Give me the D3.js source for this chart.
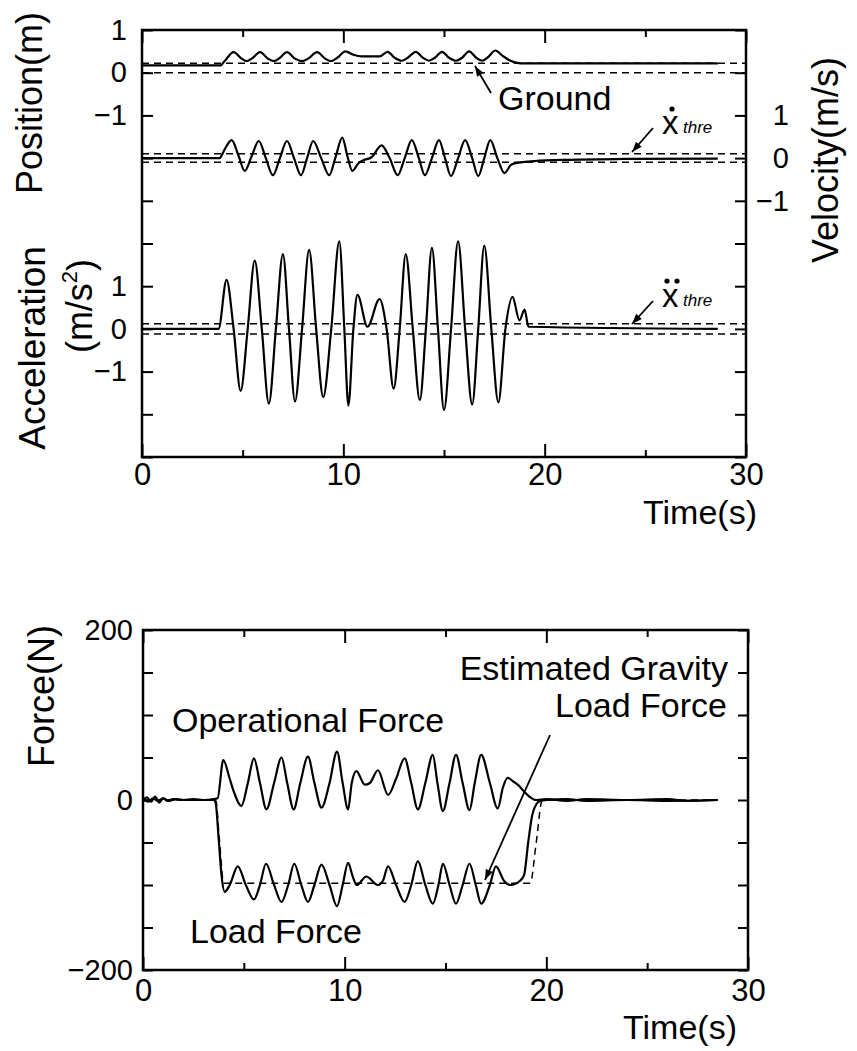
<!DOCTYPE html>
<html lang="en">
<head>
<meta charset="UTF-8" />
<title>Position / Velocity / Acceleration and Force</title>
<script src="https://cdn.jsdelivr.net/npm/d3@7"></script>
<style>
  body { margin: 0; background: #fff; }
  svg text { font-family: "Liberation Sans", Arial, Helvetica, sans-serif; fill: #000; }
  .domain { display: none; }
  .tick line { stroke: #000; stroke-width: 2; }
</style>
</head>
<body>
<svg id="chart" width="857" height="1051"></svg>
<script>
// ---- data: [time (s), value] ----
const position = [[0,0.17],[3.9,0.17],[4.15,0.3],[4.55,0.48],[4.95,0.33],[5.2,0.27],[5.45,0.33],[5.87,0.48],[6.25,0.33],[6.55,0.27],[6.8,0.33],[7.2,0.48],[7.6,0.33],[7.95,0.27],[8.25,0.33],[8.7,0.48],[9.1,0.33],[9.4,0.27],[9.7,0.35],[10.1,0.5],[10.5,0.42],[10.9,0.38],[11.8,0.38],[12.2,0.49],[12.55,0.35],[12.9,0.28],[13.2,0.35],[13.6,0.49],[13.95,0.35],[14.25,0.28],[14.55,0.35],[14.9,0.49],[15.25,0.35],[15.6,0.28],[15.9,0.35],[16.25,0.5],[16.6,0.35],[16.9,0.28],[17.2,0.37],[17.55,0.52],[17.9,0.4],[18.3,0.28],[18.8,0.22],[28.6,0.22]];
const velocity = [[0,0],[3.85,0],[4.1,0.2],[4.45,0.42],[4.8,0.05],[5.1,-0.3],[5.45,0.05],[5.8,0.4],[6.15,0],[6.5,-0.4],[6.85,0],[7.2,0.4],[7.55,0],[7.9,-0.4],[8.2,0],[8.5,0.4],[8.9,0],[9.3,-0.4],[9.6,0],[9.95,0.48],[10.2,0.05],[10.45,-0.3],[10.75,-0.12],[11.0,-0.05],[11.4,0.02],[11.9,0.3],[12.3,0],[12.7,-0.4],[13.05,0],[13.4,0.42],[13.75,0],[14.05,-0.4],[14.4,0],[14.75,0.42],[15.05,0],[15.35,-0.42],[15.7,0],[16.05,0.42],[16.4,0],[16.7,-0.42],[17.0,0],[17.3,0.42],[17.65,0],[18.0,-0.35],[18.35,-0.15],[18.8,-0.1],[19.5,-0.07],[21,-0.04],[24,-0.02],[28.6,-0.01]];
const acceleration = [[0,0],[3.8,0],[4.2,1.15],[4.55,0],[4.9,-1.45],[5.25,0],[5.6,1.6],[5.95,0],[6.3,-1.75],[6.65,0],[7.0,1.75],[7.3,0],[7.6,-1.7],[7.95,0],[8.3,1.85],[8.65,0],[9.0,-1.6],[9.4,0],[9.8,2.05],[10.05,0],[10.25,-1.8],[10.5,0],[10.7,0.8],[11.2,0.05],[11.8,0.7],[12.15,0],[12.5,-1.4],[12.8,0],[13.1,1.75],[13.45,0],[13.8,-1.67],[14.1,0],[14.4,1.9],[14.7,0],[15.0,-1.9],[15.35,0],[15.7,2.05],[16.05,0],[16.4,-1.77],[16.7,0],[17.0,1.95],[17.35,0],[17.7,-1.72],[18.05,0],[18.4,0.75],[18.75,0.2],[19.0,0.45],[19.2,0.05],[28.6,0]];

const operationalForce = [[0,0],[0.2,3],[0.4,-2],[0.6,4],[0.8,-3],[1.0,2],[1.2,-1],[1.5,1],[2,0],[3,0],[3.5,1],[3.7,2],[3.98,47],[4.3,25],[4.5,10],[4.88,-7],[5.2,20],[5.5,49],[5.8,20],[6.12,-11],[6.5,20],[6.87,50],[7.15,20],[7.47,-11],[7.8,20],[8.18,51],[8.5,20],[8.85,-9],[9.25,20],[9.62,57],[9.9,20],[10.17,-11],[10.35,20],[10.58,34],[11.0,18],[11.25,20],[11.65,35],[12.15,6],[12.55,25],[12.97,49],[13.3,20],[13.63,-11],[14.0,20],[14.37,53],[14.6,20],[14.87,-13],[15.2,20],[15.52,53],[15.85,20],[16.19,-12],[16.45,20],[16.77,53],[17.2,20],[17.59,-10],[17.85,15],[18.08,26],[18.35,22],[18.58,18],[18.9,10],[19.16,4],[19.5,0],[20,1],[21,-1],[22,1],[24,0],[26,1],[27,-1],[28.5,0]];
const loadForce = [[0,1],[0.25,-2],[0.5,2],[0.75,-1],[1.0,2],[1.3,-1],[1.6,1],[2.0,0],[2.5,1],[3.0,0],[3.5,0],[3.6,-3],[3.75,-45],[3.9,-90],[4.05,-108],[4.3,-100],[4.7,-78],[5.1,-100],[5.5,-117],[5.8,-100],[6.1,-75],[6.5,-100],[6.87,-120],[7.2,-100],[7.5,-75],[7.85,-100],[8.18,-120],[8.5,-100],[8.85,-76],[9.25,-100],[9.62,-125],[9.9,-100],[10.17,-74],[10.4,-90],[10.6,-100],[11.07,-90],[11.65,-100],[11.9,-95],[12.15,-78],[12.55,-100],[12.97,-120],[13.3,-100],[13.63,-72],[14.0,-100],[14.37,-122],[14.65,-100],[14.87,-75],[15.2,-100],[15.52,-122],[15.85,-100],[16.19,-75],[16.5,-100],[16.77,-122],[17.2,-100],[17.5,-78],[17.9,-95],[18.2,-100],[18.7,-95],[18.9,-88],[19.1,-50],[19.3,-18],[19.5,-5],[19.7,-1],[20,0],[21,1],[22,-1],[24,0],[26,-1],[28.5,0]];
const gravityLoadEstimate = [[0,0],[3.6,0],[3.8,-50],[4.0,-98],[19.2,-98],[19.5,-50],[19.8,0],[28.5,0]];

// thresholds and reference levels (dashed)
const groundLevel = 0;
const ownLevel = 0.22;
const velThreshold = 0.1;
const accThreshold = 0.12;

// ticks
const timeMajor = [0, 10, 20, 30];
const timeMinor = [5, 15, 25];
const unitTicks = d3.range(-9, 2);       // shared grid of the upper frame
const posLabels = [1, 0, -1];
const velLabels = [1, 0, -1];
const accLabels = [1, 0, -1];
const forceTicks = d3.range(-200, 201, 50);
const forceLabels = [200, 0, -200];

const svg = d3.select("#chart");

// ---------- upper panel ----------
const top1 = 30, bot1 = 457, left1 = 142, right1 = 746;
const x1 = d3.scaleLinear().domain([0, 30]).range([left1, right1]);
const yPos = d3.scaleLinear().domain([-9, 1]).range([bot1, top1]);
const yVel = d3.scaleLinear().domain([-7, 3]).range([bot1, top1]);
const yAcc = d3.scaleLinear().domain([-3, 7]).range([bot1, top1]);

// ---------- lower panel ----------
const top2 = 630, bot2 = 970, left2 = 143, right2 = 748;
const x2 = d3.scaleLinear().domain([0, 30]).range([left2, right2]);
const yF = d3.scaleLinear().domain([-200, 200]).range([bot2, top2]);

function frame(l, t, r, b) {
  svg.append("rect").attr("x", l).attr("y", t).attr("width", r - l).attr("height", b - t)
    .attr("fill", "none").attr("stroke", "#000").attr("stroke-width", 2.5);
}

function timeTicks(x, t, b, pad) {
  svg.append("g").attr("transform", `translate(0,${b})`)
    .call(d3.axisBottom(x).tickValues(timeMajor).tickSize(-13).tickFormat(""));
  svg.append("g").attr("transform", `translate(0,${b})`)
    .call(d3.axisBottom(x).tickValues(timeMinor).tickSize(-7).tickFormat(""));
  svg.append("g").attr("transform", `translate(0,${t})`)
    .call(d3.axisTop(x).tickValues(timeMajor).tickSize(-13).tickFormat(""));
  svg.append("g").attr("transform", `translate(0,${t})`)
    .call(d3.axisTop(x).tickValues(timeMinor).tickSize(-7).tickFormat(""));
  const lab = svg.append("g").attr("transform", `translate(0,${b})`)
    .call(d3.axisBottom(x).tickValues(timeMajor).tickSize(0).tickPadding(pad));
  lab.selectAll("text").style("font-size", "31px");
}

function line(x, y, data, dashed) {
  svg.append("path").datum(data)
    .attr("fill", "none").attr("stroke", "#000")
    .attr("stroke-width", dashed ? 1.5 : 2.2)
    .attr("stroke-dasharray", dashed ? "7,5" : null)
    .attr("stroke-linejoin", "round")
    .attr("d", d3.line().x(d => x(d[0])).y(d => y(d[1])).curve(d3.curveMonotoneX));
}

function level(x, y, v, t0, t1) {
  line(x, y, [[t0, v], [t1, v]], true);
}

function arrow(x0, y0, x1_, y1_) {
  svg.append("line").attr("x1", x0).attr("y1", y0).attr("x2", x1_).attr("y2", y1_)
    .attr("stroke", "#000").attr("stroke-width", 1.8);
  const a = Math.atan2(y1_ - y0, x1_ - x0), L = 11, w = 0.35;
  const p = [[x1_, y1_],
    [x1_ - L * Math.cos(a - w), y1_ - L * Math.sin(a - w)],
    [x1_ - L * Math.cos(a + w), y1_ - L * Math.sin(a + w)]];
  svg.append("path").attr("d", "M" + p.join("L") + "Z").attr("fill", "#000");
}

function label(txt, x, y, size, anchor, rotate) {
  const t = svg.append("text").text(txt).style("font-size", size + "px")
    .attr("text-anchor", anchor || "start");
  if (rotate) t.attr("transform", `translate(${x},${y}) rotate(-90)`);
  else t.attr("x", x).attr("y", y);
  return t;
}

// ===== upper panel =====
frame(left1, top1, right1, bot1);

svg.append("g").attr("transform", `translate(${left1},0)`)
  .call(d3.axisLeft(yPos).tickValues(unitTicks).tickSize(-11).tickFormat(""));
svg.append("g").attr("transform", `translate(${right1},0)`)
  .call(d3.axisRight(yPos).tickValues(unitTicks).tickSize(-11).tickFormat(""));

const pl = svg.append("g").attr("transform", `translate(${left1},0)`)
  .call(d3.axisLeft(yPos).tickValues(posLabels).tickSize(0).tickPadding(15));
const al = svg.append("g").attr("transform", `translate(${left1},0)`)
  .call(d3.axisLeft(yAcc).tickValues(accLabels).tickSize(0).tickPadding(15));
const vl = svg.append("g").attr("transform", `translate(${right1},0)`)
  .call(d3.axisRight(yVel).tickValues(velLabels).tickSize(0).tickPadding(43));
vl.selectAll("text").attr("text-anchor", "end");
[pl, al, vl].forEach(g => g.selectAll("text").style("font-size", "29px"));

timeTicks(x1, top1, bot1, 6);

// reference / threshold levels
level(x1, yPos, groundLevel, 0, 30);
level(x1, yPos, ownLevel, 0, 30);
level(x1, yVel, velThreshold, 0, 30);
level(x1, yVel, -velThreshold, 0, 30);
level(x1, yAcc, accThreshold, 0, 30);
level(x1, yAcc, -accThreshold, 0, 30);

line(x1, yPos, position);
line(x1, yVel, velocity);
line(x1, yAcc, acceleration);

label("Position(m)", 42, 103, 36, "middle", true);
label("Acceleration", 45, 348, 37, "middle", true);
const ms = label("(m/s", 92, 306, 36, "middle", true);
ms.append("tspan").text("2").style("font-size", "22px").attr("dy", "-0.7em");
ms.append("tspan").text(")").attr("dy", "0.45em");
label("Velocity(m/s)", 838, 160, 36, "middle", true);
label("Time(s)", 757, 524, 34, "end");

label("Ground", 498, 110, 34);
arrow(491, 93, 475, 66);

// x-dot threshold label
label("x", 662, 134, 33);
svg.append("circle").attr("cx", 672).attr("cy", 109).attr("r", 2.6);
label("thre", 683, 133, 17).style("font-style", "italic");
arrow(653, 128, 632, 152);

// x-double-dot threshold label
label("x", 662, 307, 33);
svg.append("circle").attr("cx", 667).attr("cy", 281).attr("r", 2.6);
svg.append("circle").attr("cx", 677).attr("cy", 281).attr("r", 2.6);
label("thre", 683, 306, 17).style("font-style", "italic");
arrow(653, 301, 632, 324);

// ===== lower panel =====
frame(left2, top2, right2, bot2);

svg.append("g").attr("transform", `translate(${left2},0)`)
  .call(d3.axisLeft(yF).tickValues(forceTicks).tickSize(-10).tickFormat(""));
svg.append("g").attr("transform", `translate(${right2},0)`)
  .call(d3.axisRight(yF).tickValues(forceTicks).tickSize(-10).tickFormat(""));
const fl = svg.append("g").attr("transform", `translate(${left2},0)`)
  .call(d3.axisLeft(yF).tickValues(forceLabels).tickSize(0).tickPadding(10));
fl.selectAll("text").style("font-size", "29px");

timeTicks(x2, top2, bot2, 9);

line(x2, yF, gravityLoadEstimate, true);
line(x2, yF, operationalForce);
line(x2, yF, loadForce);

label("Force(N)", 54, 696, 36, "middle", true);
label("Time(s)", 737, 1039, 34, "end");
label("Operational Force", 172, 732, 34);
label("Estimated Gravity", 728, 680, 34, "end");
label("Load Force", 727, 717, 34, "end");
label("Load Force", 190, 943, 34);
arrow(550, 735, 485, 880);
</script>
</body>
</html>
